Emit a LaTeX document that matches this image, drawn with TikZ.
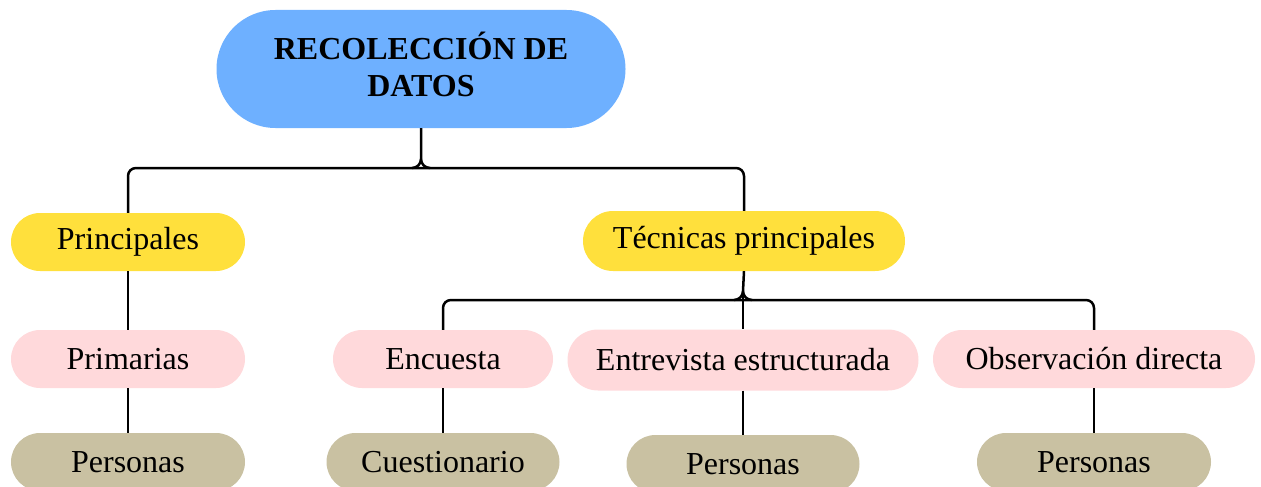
\documentclass[tikz,border=0pt]{standalone}
\usepackage{fontspec}
\setmainfont{Liberation Serif}
\definecolor{cblue}{HTML}{6EB0FF}
\definecolor{cyellow}{HTML}{FFE03C}
\definecolor{cpink}{HTML}{FFD9DB}
\definecolor{ctan}{HTML}{C9C1A2}
\usetikzlibrary{shapes.misc}
\tikzset{
  pill/.style={rounded rectangle, minimum height=58pt, inner sep=0pt, font=\fontsize{32}{38}\selectfont, text=black},
  topbox/.style={pill, fill=cblue, minimum width=409pt, minimum height=118pt, font=\fontsize{32}{37}\selectfont\bfseries, align=center, text depth=9pt},
  lvlone/.style={pill, fill=cyellow},
  lvltwo/.style={pill, fill=cpink},
  lvlthree/.style={pill, fill=ctan},
  conn/.style={line width=2.5pt, black, rounded corners=8pt},
  curve/.style={line width=2.5pt, black}
}
\begin{document}
\begin{tikzpicture}[x=1pt,y=-1pt]
\useasboundingbox (0,0) rectangle (1261,487);
\begin{scope}
\clip (0,0) rectangle (1261,487);
\node[topbox] (top) at (421,69) {RECOLECCIÓN DE\\DATOS};
\node[lvlone, minimum width=234pt] (prin) at (128,242) {Principales};
\node[lvlone, minimum width=322pt, minimum height=60pt] (tec) at (744,241) {Técnicas principales};
\node[lvltwo, minimum width=234pt] (prim) at (128,359) {Primarias};
\node[lvltwo, minimum width=220pt] (enc) at (443,359) {Encuesta};
\node[lvltwo, minimum width=351pt, minimum height=61pt] (ent) at (743,360) {Entrevista estructurada};
\node[lvltwo, minimum width=322pt] (obs) at (1094,359) {Observación directa};
\node[lvlthree, minimum width=234pt] (per1) at (128,462) {Personas};
\node[lvlthree, minimum width=233pt] (cue) at (443,462) {Cuestionario};
\node[lvlthree, minimum width=233pt] (per2) at (743,464) {Personas};
\node[lvlthree, minimum width=234pt] (per3) at (1094,462) {Personas};
\end{scope}
% top brace
\coordinate (j1) at (421,168);
\coordinate (j1a) at (421,159);
\coordinate (j1l) at (412,168);
\coordinate (j1r) at (430,168);
\draw[conn] (prin.north) |- (j1) -| (tec.north);
\draw[curve] (top.south) -- (j1a) to[out=-90,in=0] (j1l);
\draw[curve] (j1a) to[out=-90,in=180] (j1r);
% second brace
\coordinate (j2) at (743,300);
\coordinate (j2a) at (743,291);
\coordinate (j2l) at (734,300);
\coordinate (j2r) at (752,300);
\draw[conn] (enc.north) |- (j2) -| (obs.north);
\draw[curve] (tec.south) -- (j2a) to[out=-90,in=0] (j2l);
\draw[curve] (j2a) to[out=-90,in=180] (j2r);
\draw[curve] (j2a) -- (ent.north);
\draw[curve] (prin.south) -- (prim.north);
\draw[curve] (prim.south) -- (per1.north);
\draw[curve] (enc.south) -- (cue.north);
\draw[curve] (ent.south) -- (per2.north);
\draw[curve] (obs.south) -- (per3.north);
\end{tikzpicture}
\end{document}
